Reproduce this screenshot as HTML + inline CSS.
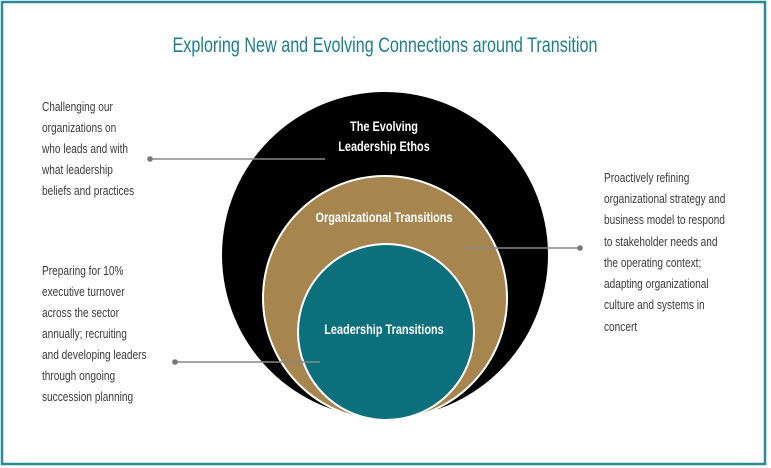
<!DOCTYPE html>
<html><head><meta charset="utf-8"><style>
html,body{margin:0;padding:0;background:#fff;}
svg{display:block;}
.t{font-family:"Liberation Sans",sans-serif;font-size:12.5px;fill:#3a3a3a;}
.w{font-family:"Liberation Sans",sans-serif;font-size:14px;fill:#fff;font-weight:bold;text-anchor:middle;}
</style></head><body>
<svg width="771" height="468" viewBox="0 0 771 468" xmlns="http://www.w3.org/2000/svg">
<rect x="2" y="2" width="763" height="462" fill="#fff" stroke="#2b8a94" stroke-width="2.5"/>
<g transform="translate(385,0) scale(0.77,1)">
<text x="0" y="52" text-anchor="middle" font-family="Liberation Sans, sans-serif" font-size="21" fill="#1f7f88">Exploring New and Evolving Connections around Transition</text>
</g>
<circle cx="385" cy="255" r="163" fill="#000"/>
<circle cx="385" cy="298" r="122" fill="#a6854f" stroke="#fff" stroke-width="2"/>
<circle cx="386" cy="332" r="88" fill="#0b6f7c" stroke="#fff" stroke-width="2"/>
<g transform="translate(384,0) scale(0.78,1)">
<text class="w" x="0" y="131">The Evolving</text>
<text class="w" x="0" y="151">Leadership Ethos</text>
<text class="w" x="0" y="222">Organizational Transitions</text>
<text class="w" x="0" y="334">Leadership Transitions</text>
</g>
<g stroke="#888" stroke-width="1.6">
<line x1="150" y1="159" x2="325" y2="159"/>
<line x1="462" y1="248" x2="580" y2="248"/>
<line x1="175" y1="362" x2="320" y2="362"/>
</g>
<g fill="#777"><circle cx="150" cy="159" r="2.8"/><circle cx="580" cy="248" r="2.8"/><circle cx="175" cy="362" r="2.8"/></g>
<g class="t" transform="translate(42,0) scale(0.81,1)">
<text x="0" y="111">Challenging our</text>
<text x="0" y="132">organizations on</text>
<text x="0" y="153">who leads and with</text>
<text x="0" y="174">what leadership</text>
<text x="0" y="195">beliefs and practices</text>
<text x="0" y="275">Preparing for 10%</text>
<text x="0" y="296">executive turnover</text>
<text x="0" y="317">across the sector</text>
<text x="0" y="338">annually; recruiting</text>
<text x="0" y="359">and developing leaders</text>
<text x="0" y="380">through ongoing</text>
<text x="0" y="401">succession planning</text>
</g>
<g class="t" transform="translate(604,0) scale(0.81,1)">
<text x="0" y="182">Proactively refining</text>
<text x="0" y="203">organizational strategy and</text>
<text x="0" y="224">business model to respond</text>
<text x="0" y="246">to stakeholder needs and</text>
<text x="0" y="267">the operating context;</text>
<text x="0" y="288">adapting organizational</text>
<text x="0" y="309">culture and systems in</text>
<text x="0" y="331">concert</text>
</g>
</svg>
</body></html>
